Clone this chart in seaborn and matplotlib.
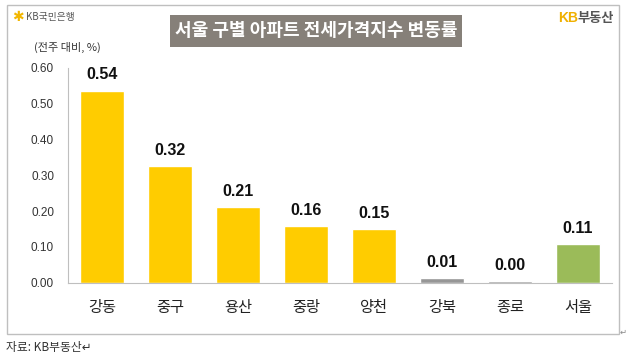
import matplotlib
matplotlib.use("Agg")
import matplotlib.pyplot as plt
import matplotlib.patches as mpatches
import numpy as np
import pandas as pd
import seaborn as sns

# data
districts = ["강동", "중구", "용산", "중랑", "양천", "강북", "종로", "서울"]
changes = [0.537, 0.325, 0.211, 0.157, 0.149, 0.012, 0.004, 0.107]
value_labels = ["0.54", "0.32", "0.21", "0.16", "0.15", "0.01", "0.00", "0.11"]
bar_colors = ["#FFCC00"] * 5 + ["#969696", "#969696", "#9BBB59"]
yticks = [0.0, 0.1, 0.2, 0.3, 0.4, 0.5, 0.6]

sns.set_theme(style="white")
plt.rcParams['font.family'] = ['Noto Sans CJK KR', 'DejaVu Sans']

W, H = 627, 357
fig = plt.figure(figsize=(W / 100, H / 100), dpi=100)
fig.patch.set_facecolor("white")

def px(x, y):
    # pixel coords (from top left) -> figure fraction
    return x / W, 1 - y / H

# outer frame
fig.patches.append(mpatches.Rectangle(px(7, 334), 612 / W, 329 / H, transform=fig.transFigure,
                                      fill=False, edgecolor="#BFBFBF", linewidth=1))

ax = fig.add_axes([68 / W, 1 - 282.5 / H, (612 - 68) / W, (282.5 - 68) / H])
df = pd.DataFrame({"district": districts, "change": changes})
sns.barplot(data=df, x="district", y="change", hue="district", palette=bar_colors,
            width=0.66, legend=False, ax=ax, saturation=1)

ax.set_ylim(0, 0.6)
ax.set_xlim(-0.5, len(districts) - 0.5)
ax.set_yticks(yticks)
ax.set_yticklabels([f"{t:.2f}" for t in yticks], fontsize=8.5, color="#333333",
                   family=['Liberation Sans', 'DejaVu Sans'])
ax.tick_params(axis="y", length=4, width=0.8, color="#BFBFBF", pad=6, direction="out")
ax.tick_params(axis="x", length=0, labelsize=11, labelcolor="#222222", pad=12)
ax.set_xticks(np.arange(-0.5, len(districts)), minor=True)
ax.tick_params(axis="x", which="minor", length=4, width=0.8, color="#BFBFBF", direction="out")
ax.set_xlabel("")
ax.set_ylabel("")
for s in ["top", "right"]:
    ax.spines[s].set_visible(False)
for s in ["left", "bottom"]:
    ax.spines[s].set_color("#BFBFBF")
    ax.spines[s].set_linewidth(0.8)

for i, (v, lab) in enumerate(zip(changes, value_labels)):
    ax.annotate(lab, (i, v), xytext=(0, 6), textcoords="offset points", ha="center", va="bottom",
                fontsize=11.5, fontweight="bold", color="#111111",
                family=['Liberation Sans', 'DejaVu Sans'])

# title box
fig.patches.append(mpatches.Rectangle(px(170, 47), 292 / W, 32 / H, transform=fig.transFigure,
                                      facecolor="#868079", edgecolor="none"))
fig.text(*px(316, 31), "서울 구별 아파트 전세가격지수 변동률", ha="center", va="center",
         fontsize=13, fontweight="bold", color="white")

fig.text(*px(67, 47), "(전주 대비, %)", ha="center", va="center", fontsize=8, color="#333333")

# logos
fig.text(*px(12, 17), "✱", ha="left", va="center", fontsize=10, color="#F2B600",
         family=['DejaVu Sans'])
fig.text(*px(26, 17), "KB국민은행", ha="left", va="center", fontsize=7, color="#555555")
fig.text(*px(558, 18), "KB", ha="left", va="center", fontsize=10, fontweight="bold", color="#F0B000",
         family=['Liberation Sans', 'DejaVu Sans'])
fig.text(*px(577, 18), "부동산", ha="left", va="center", fontsize=9.5, fontweight="bold", color="#555555")

fig.text(*px(6, 347), "자료: KB부동산↵", ha="left", va="center", fontsize=8.5, color="#333333",
         family=['Noto Sans CJK KR', 'DejaVu Sans'])
fig.text(*px(620, 332), "↵", ha="left", va="center", fontsize=6, color="#888888",
         family=['DejaVu Sans'])

fig.savefig("out.png", dpi=100)
